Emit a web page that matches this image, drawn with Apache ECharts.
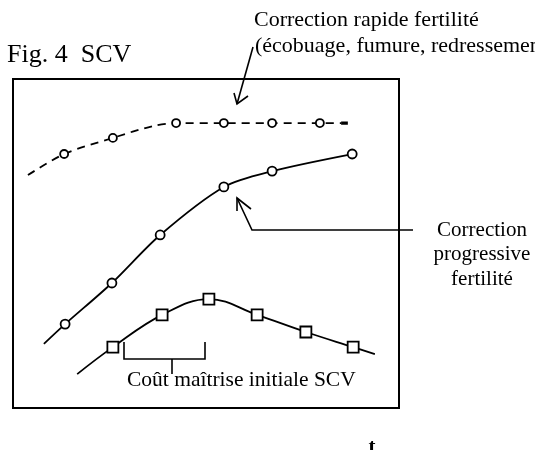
<!DOCTYPE html>
<html><head><meta charset="utf-8">
<script src="https://cdn.jsdelivr.net/npm/echarts@6/dist/echarts.min.js"></script>
<style>html,body{margin:0;padding:0;background:#fff}#c{width:535px;height:450px}</style>
</head><body><div id="c"></div>
<script>
// Correction rapide fertilité (dashed)
const rapidX = [0.31, 1.06, 2.07, 2.90, 3.38, 4.37, 5.37, 6.36, 6.80];
const rapidY = [7.08, 7.72, 8.21, 8.57, 8.66, 8.66, 8.66, 8.66, 8.66];
const rapidMarked = [0, 1, 1, 0, 1, 1, 1, 1, 0];
const rapidEndX = [6.80, 6.94];
const rapidEndY = [8.66, 8.66];
// Correction progressive fertilité
const progX = [0.64, 1.08, 2.05, 3.05, 4.37, 5.37, 7.03];
const progY = [1.95, 2.55, 3.80, 5.26, 6.72, 7.20, 7.72];
const progMarked = [0, 1, 1, 1, 1, 1, 1];
// SCV
const scvX = [1.33, 2.07, 3.09, 4.06, 5.06, 6.07, 7.05, 7.50];
const scvY = [1.03, 1.85, 2.83, 3.31, 2.83, 2.31, 1.85, 1.64];
const scvMarked = [0, 1, 1, 1, 1, 1, 1, 0];

const FONT = "'Liberation Serif','Times New Roman',serif";
function build(xs, ys, marks) {
  return xs.map((x, i) => marks[i] ? [x, ys[i]] : {value: [x, ys[i]], symbol: 'none'});
}
const chart = echarts.init(document.getElementById('c'), null, {renderer: 'canvas'});
const black = '#000';
function txt(t, x, y, size, align, weight) {
  return {type: 'text', x: x, y: y, silent: true,
    style: {text: t, fill: black, font: (weight || 'normal') + ' ' + size + 'px ' + FONT,
      align: align || 'left', verticalAlign: 'middle'}};
}
function pl(points, w) {
  return {type: 'polyline', silent: true, shape: {points: points},
    style: {stroke: black, lineWidth: w || 1.6, fill: null}};
}
chart.setOption({
  animation: false,
  backgroundColor: '#fff',
  grid: {left: 13, top: 79, width: 386, height: 329, show: true, borderColor: black, borderWidth: 2, backgroundColor: 'transparent'},
  xAxis: {type: 'value', min: 0, max: 8, show: false},
  yAxis: {type: 'value', min: 0, max: 10, show: false},
  series: [
    {type: 'line', smooth: 0.3, data: build(rapidX, rapidY, rapidMarked),
     symbol: 'circle', symbolSize: 8,
     lineStyle: {color: black, width: 1.8, type: [8, 6]},
     itemStyle: {color: '#fff', borderColor: black, borderWidth: 1.8}},
    {type: 'line', data: rapidEndX.map((x, i) => [x, rapidEndY[i]]), symbol: 'none',
     lineStyle: {color: black, width: 3.2}},
    {type: 'line', smooth: 0.3, data: build(progX, progY, progMarked),
     symbol: 'circle', symbolSize: 9,
     lineStyle: {color: black, width: 1.8},
     itemStyle: {color: '#fff', borderColor: black, borderWidth: 1.8}},
    {type: 'line', smooth: 0.4, data: build(scvX, scvY, scvMarked),
     symbol: 'rect', symbolSize: 11,
     lineStyle: {color: black, width: 1.8},
     itemStyle: {color: '#fff', borderColor: black, borderWidth: 1.8}}
  ],
  graphic: [
    txt('Fig. 4  SCV', 7, 55, 26),
    txt('Correction rapide fertilité', 254, 20, 22),
    txt('(écobuage, fumure, redressement)', 255, 46, 22),
    txt('Correction', 482, 230, 21, 'center'),
    txt('progressive', 482, 254, 21, 'center'),
    txt('fertilité', 482, 279, 21, 'center'),
    txt('Coût maîtrise initiale SCV', 127, 380, 21.5),
    txt('t', 372, 448, 21, 'center', 'bold'),
    // arrow to rapid curve
    pl([[253, 47], [237, 104]]),
    pl([[234, 93], [237, 104], [248, 96]]),
    // arrow to progressive curve
    pl([[413, 230], [252, 230], [237, 198]]),
    pl([[251, 209], [237, 198], [237, 211]]),
    // bracket
    pl([[124, 342], [124, 359], [205, 359], [205, 342]]),
    pl([[172, 359], [172, 374]])
  ]
});
</script></body></html>
